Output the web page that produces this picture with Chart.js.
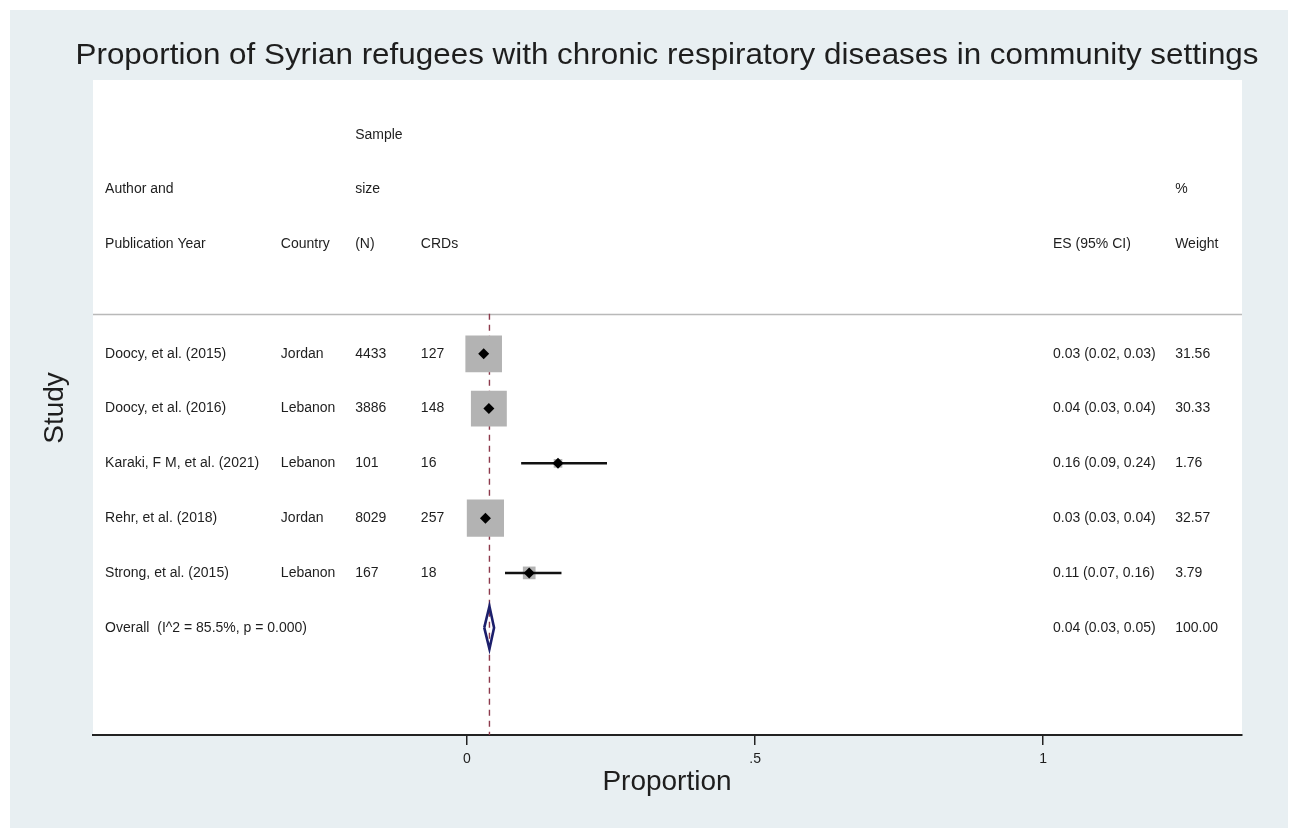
<!DOCTYPE html>
<html>
<head>
<meta charset="utf-8">
<script src="https://cdn.jsdelivr.net/npm/chart.js@4/dist/chart.umd.min.js"></script>
<style>
  html, body { margin: 0; padding: 0; background: #ffffff; }
  #wrap { width: 1295px; height: 837px; }
</style>
</head>
<body>
<div id="wrap"><canvas id="forest" width="1295" height="837"></canvas></div>
<script>
// ---- data ----
const titleText = "Proportion of Syrian refugees with chronic respiratory diseases in community settings";
const studies   = ["Doocy, et al. (2015)", "Doocy, et al. (2016)", "Karaki, F M, et al. (2021)", "Rehr, et al. (2018)", "Strong, et al. (2015)"];
const countries = ["Jordan", "Lebanon", "Lebanon", "Jordan", "Lebanon"];
const sampleN   = [4433, 3886, 101, 8029, 167];
const crdCases  = [127, 148, 16, 257, 18];
const estimates = [0.029, 0.038, 0.158, 0.032, 0.108];
const ciLow     = [0.024, 0.032, 0.094, 0.028, 0.066];
const ciHigh    = [0.034, 0.044, 0.243, 0.036, 0.164];
const weights   = [31.56, 30.33, 1.76, 32.57, 3.79];
const overallLabel    = "Overall  (I^2 = 85.5%, p = 0.000)";
const overallEstimate = 0.039;
const overallLow      = 0.030;
const overallHigh     = 0.047;
const overallWeight   = 100;
const xTicks      = [0, 0.5, 1];
const xTickLabels = ["0", ".5", "1"];
const headerLines = [
  { author: "",                 country: "",        n: "Sample", crd: "",     es: "",            w: "" },
  { author: "Author and",       country: "",        n: "size",   crd: "",     es: "",            w: "%" },
  { author: "Publication Year", country: "Country", n: "(N)",    crd: "CRDs", es: "ES (95% CI)", w: "Weight" }
];

// ---- layout constants ----
const FONT = '"Liberation Sans", Arial, Helvetica, sans-serif';
const TEXT_COLOR = "#1e1e1e";
const X_MIN = -0.649, X_MAX = 1.345;
const Y_MIN = 0, Y_MAX = 11.96;
const FIRST_ROW = 5;
const SEPARATOR_ROW = 4.27;
const studyRows = studies.map((_, i) => FIRST_ROW + i);
const overallRow = FIRST_ROW + studies.length;
// text columns, in units of the x scale
const columns = { author: -0.628, country: -0.323, n: -0.194, crd: -0.080, es: 1.017, w: 1.229 };
const BOX_PX_PER_SQRT_WEIGHT = 6.515;
const DIAMOND_HALF_HEIGHT = 0.39;
const TITLE_WIDTH = 1183;

const fmt = v => v.toFixed(2);

// ---- datasets ----
const refLine = {
  data: [{ x: overallEstimate, y: SEPARATOR_ROW }, { x: overallEstimate, y: Y_MAX }],
  showLine: true, borderColor: "#8d3a4c", borderWidth: 1.4, borderDash: [6, 5],
  pointRadius: 0, order: 5
};
const boxes = {
  data: estimates.map((v, i) => ({ x: v, y: studyRows[i] })),
  pointStyle: "rect",
  pointRadius: weights.map(w => BOX_PX_PER_SQRT_WEIGHT * Math.sqrt(w) / Math.SQRT2),
  backgroundColor: "#b3b3b3", borderWidth: 0, order: 4
};
const ciLines = studies.map((_, i) => ({
  data: [{ x: ciLow[i], y: studyRows[i] }, { x: ciHigh[i], y: studyRows[i] }],
  showLine: true, borderColor: "#111111", borderWidth: 2.5, pointRadius: 0, order: 3
}));
const markers = {
  data: estimates.map((v, i) => ({ x: v, y: studyRows[i] })),
  pointStyle: "rectRot", pointRadius: 5.5,
  backgroundColor: "#000000", borderWidth: 0, order: 2
};
const diamond = {
  data: [
    { x: overallLow, y: overallRow },
    { x: overallEstimate, y: overallRow - DIAMOND_HALF_HEIGHT },
    { x: overallHigh, y: overallRow },
    { x: overallEstimate, y: overallRow + DIAMOND_HALF_HEIGHT },
    { x: overallLow, y: overallRow }
  ],
  showLine: true, borderColor: "#1c1f6c", borderWidth: 2.6, borderJoinStyle: "miter",
  pointRadius: 0, tension: 0, order: 1
};

// ---- drawing helpers ----
const backdrop = {
  id: "backdrop",
  beforeDraw(chart) {
    const { ctx, chartArea: a } = chart;
    ctx.save();
    ctx.fillStyle = "#ffffff";
    ctx.fillRect(0, 0, chart.width, chart.height);
    ctx.fillStyle = "#e8eff2";
    ctx.fillRect(10, 10, 1278, 818);
    ctx.fillStyle = "#ffffff";
    ctx.fillRect(a.left, a.top, a.right - a.left, a.bottom - a.top);
    ctx.restore();
  },
  beforeDatasetsDraw(chart) {
    const { ctx, chartArea: a, scales } = chart;
    const y = Math.round(scales.y.getPixelForValue(SEPARATOR_ROW)) + 0.5;
    ctx.save();
    ctx.strokeStyle = "#b9b9b9";
    ctx.lineWidth = 1.5;
    ctx.beginPath();
    ctx.moveTo(a.left, y);
    ctx.lineTo(a.right, y);
    ctx.stroke();
    ctx.restore();
  }
};

const tableText = {
  id: "tableText",
  afterDraw(chart) {
    const { ctx, scales } = chart;
    const xs = scales.x, ys = scales.y;
    const put = (txt, col, row) => {
      if (!txt) return;
      ctx.fillText(txt, xs.getPixelForValue(columns[col]), ys.getPixelForValue(row));
    };
    ctx.save();
    ctx.fillStyle = TEXT_COLOR;
    ctx.font = "14px " + FONT;
    ctx.textAlign = "left";
    ctx.textBaseline = "middle";

    headerLines.forEach((h, k) => {
      const row = k + 1;
      Object.keys(columns).forEach(col => put(h[col], col, row));
    });

    studies.forEach((s, i) => {
      const row = studyRows[i];
      put(s, "author", row);
      put(countries[i], "country", row);
      put(String(sampleN[i]), "n", row);
      put(String(crdCases[i]), "crd", row);
      put(`${fmt(estimates[i])} (${fmt(ciLow[i])}, ${fmt(ciHigh[i])})`, "es", row);
      put(fmt(weights[i]), "w", row);
    });
    put(overallLabel, "author", overallRow);
    put(`${fmt(overallEstimate)} (${fmt(overallLow)}, ${fmt(overallHigh)})`, "es", overallRow);
    put(fmt(overallWeight), "w", overallRow);

    // axis titles
    ctx.font = "28px " + FONT;
    ctx.textAlign = "center";
    ctx.textBaseline = "alphabetic";
    ctx.fillText("Proportion", 667, 790);
    ctx.save();
    ctx.translate(63, 408);
    ctx.rotate(-Math.PI / 2);
    ctx.fillText("Study", 0, 0);
    ctx.restore();

    // chart title, set a little wide
    ctx.font = "29px " + FONT;
    const w = ctx.measureText(titleText).width;
    ctx.translate(667, 64);
    ctx.scale(TITLE_WIDTH / w, 1);
    ctx.fillText(titleText, 0, 0);
    ctx.restore();
  }
};

new Chart(document.getElementById("forest"), {
  type: "scatter",
  data: { datasets: [refLine, boxes, ...ciLines, markers, diamond] },
  options: {
    responsive: false,
    animation: false,
    events: [],
    devicePixelRatio: 1,
    layout: { padding: { left: 93, right: 53, top: 80, bottom: 0 } },
    plugins: { legend: { display: false }, tooltip: { enabled: false }, title: { display: false } },
    scales: {
      x: {
        type: "linear", min: X_MIN, max: X_MAX,
        afterBuildTicks: s => { s.ticks = xTicks.map(v => ({ value: v })); },
        afterFit: s => { s.height = 102; },
        ticks: {
          callback: (v, i) => xTickLabels[i],
          font: { family: FONT, size: 14 }, color: TEXT_COLOR,
          padding: 6, maxRotation: 0, autoSkip: false
        },
        grid: { drawOnChartArea: false, drawTicks: true, tickLength: 10, color: "#222222", lineWidth: 1.5 },
        border: { display: true, color: "#222222", width: 2 }
      },
      y: { type: "linear", min: Y_MIN, max: Y_MAX, reverse: true, display: false }
    }
  },
  plugins: [backdrop, tableText]
});
</script>
</body>
</html>
